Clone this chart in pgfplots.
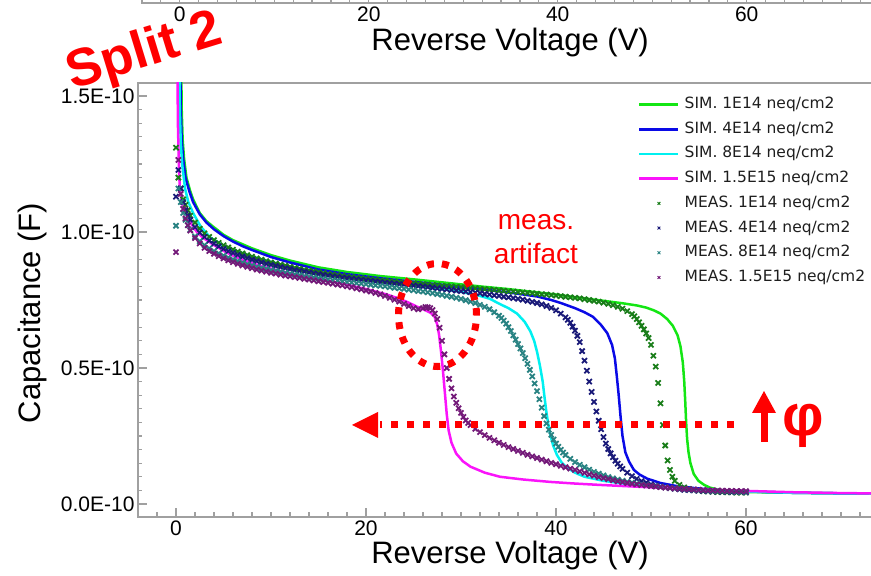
\documentclass[border=0pt]{standalone}
\usepackage{pgfplots}
\pgfplotsset{compat=1.18}
\usepackage{fontspec}
\setmainfont{Liberation Sans}
\newfontfamily\legfont{DejaVu Sans}
\usetikzlibrary{arrows.meta}

\definecolor{axisgray}{RGB}{160,160,160}
\definecolor{simgreen}{RGB}{20,230,20}
\definecolor{simblue}{RGB}{10,10,230}
\definecolor{simcyan}{RGB}{0,240,240}
\definecolor{simmagenta}{RGB}{250,20,250}
\definecolor{measgreen}{RGB}{25,125,25}
\definecolor{measnavy}{RGB}{25,25,120}
\definecolor{measteal}{RGB}{40,130,130}
\definecolor{measpurple}{RGB}{115,25,120}
\definecolor{legtext}{RGB}{30,30,30}
\definecolor{annot}{RGB}{255,0,0}

\pgfplotsset{
  cvframe/.style={
    scale only axis,
    xmin=-4, xmax=74,
    xtick={0,20,40,60}, minor xtick={-2,0,...,72},
    xtick pos=left, ytick pos=left,
    tick align=inside,
    major tick length=9pt, minor tick length=4.5pt,
    axis line style={draw=axisgray, line width=1.5pt},
    every tick/.append style={draw=axisgray, line width=1.2pt},
    tick label style={font=\fontsize{21}{25}\selectfont, text=black},
    /pgf/number format/assume math mode=true,
    label style={font=\fontsize{31}{36}\selectfont},
  },
  sim/.style={no marks, line width=2.5pt},
  meas/.style={only marks, mark=x, mark size=3.6pt, mark options={line width=1.8pt}},
}

\begin{document}
\begin{tikzpicture}[x=1pt,y=1pt]
\useasboundingbox (0,0) rectangle (871,576);
\clip (0,0) rectangle (871,576);

% bottom edge of the panel above
\begin{axis}[cvframe,
  at={(142pt,573pt)}, anchor=south west,
  width=737pt, height=150pt,
  ymin=0, ymax=1, ytick=\empty,
  xlabel={Reverse Voltage (V)},
  xlabel style={at={(axis description cs:0.4995,-0.26)}, anchor=center},
]
\addplot[draw=none] coordinates {(0,0.5)};
\end{axis}

% C-V curves, split 2
\begin{axis}[cvframe,
  at={(138pt,59pt)}, anchor=south west,
  width=741pt, height=434pt,
  ymin=-0.048, ymax=1.548,
  ytick={0,0.5,1,1.5},
  yticklabels={0.0E-10,0.5E-10,1.0E-10,1.5E-10},
  minor ytick={0,0.05,...,1.5},
  xlabel={Reverse Voltage (V)},
  ylabel={Capacitance (F)},
  xlabel style={at={(axis description cs:0.502,-0.088)}, anchor=center},
  ylabel style={at={(axis description cs:-0.143,0.47)}, anchor=center},
  legend style={at={(rel axis cs:0.6748,0.968)}, anchor=north west,
    draw=none, fill=none, inner sep=0pt, row sep=9.7pt, column sep=5pt,
    font=\legfont\fontsize{15.5}{18}\selectfont, text=legtext,
    nodes={inner sep=0pt, text height=11.5pt, text depth=3.5pt}},
  legend cell align=left,
  legend image code/.code={\draw[mark repeat=2,mark phase=2,#1]
    plot coordinates {(0pt,0pt) (19.5pt,0pt) (39pt,0pt)};},
  legend image post style={mark size=2pt, mark options={line width=0.9pt}},
]
% simulation
\addplot[sim, simgreen] coordinates {
(0.55,1.62)(0.6,1.45)(0.7,1.34)(0.85,1.27)(1.1,1.2)(1.5,1.15)(1.8,1.12)(2.5,1.07)
(3.2,1.04)(3.9,1.02)(5,0.99)(6,0.97)(7,0.955)(8,0.94)(10,0.915)(12,0.895)(15,0.87)
(18,0.853)(21.5,0.838)(25,0.826)(28.8,0.812)(32,0.8)(35,0.79)(38,0.778)(40,0.77)
(42.5,0.758)(45,0.747)(47,0.738)(48.5,0.73)(49.5,0.722)(50.3,0.712)(51,0.7)
(51.7,0.68)(52.3,0.655)(52.8,0.62)(53.1,0.58)(53.35,0.52)(53.5,0.45)(53.6,0.38)
(53.7,0.3)(53.8,0.24)(53.95,0.19)(54.15,0.15)(54.5,0.11)(55,0.085)(55.6,0.07)
(56.2,0.06)(57,0.053)(58,0.048)(60,0.044)(65,0.041)(70,0.039)(75,0.038)};
\addlegendentry{SIM. 1E14 neq/cm2}
\addplot[sim, simblue] coordinates {
(0.45,1.62)(0.5,1.45)(0.6,1.34)(0.75,1.27)(1.0,1.2)(1.4,1.15)(1.8,1.11)(2.5,1.065)
(3.2,1.035)(4,1.01)(5,0.985)(6,0.965)(7,0.948)(8,0.934)(10,0.908)(12,0.888)
(15,0.862)(18,0.845)(21.5,0.83)(25,0.817)(28,0.806)(31,0.794)(34,0.782)(36,0.773)
(38,0.763)(39.5,0.75)(40.5,0.739)(42,0.72)(43,0.705)(43.9,0.688)(44.7,0.66)
(45.4,0.628)(45.9,0.585)(46.2,0.535)(46.4,0.47)(46.6,0.4)(46.8,0.32)(47,0.25)
(47.3,0.19)(47.7,0.155)(48.2,0.125)(48.8,0.108)(49.6,0.093)(51,0.077)(52.5,0.067)
(54.4,0.059)(57,0.051)(60,0.046)(65,0.041)(70,0.039)(75,0.038)};
\addlegendentry{SIM. 4E14 neq/cm2}
\addplot[sim, simcyan] coordinates {
(0.35,1.62)(0.4,1.45)(0.5,1.33)(0.65,1.25)(0.95,1.16)(1.3,1.11)(1.8,1.07)(2.6,1.02)
(3.6,0.98)(5,0.95)(6,0.935)(7,0.922)(8,0.91)(10,0.89)(12,0.873)(15,0.85)(18,0.833)
(21.5,0.818)(25,0.803)(28,0.79)(30,0.78)(32,0.765)(33,0.755)(34.1,0.735)(35,0.72)
(35.9,0.7)(36.7,0.67)(37.3,0.635)(37.7,0.6)(38,0.56)(38.3,0.51)(38.6,0.45)
(38.8,0.39)(39,0.335)(39.2,0.29)(39.4,0.255)(39.7,0.215)(40.1,0.18)(40.6,0.152)
(41.1,0.135)(42,0.115)(43,0.1)(45,0.085)(47.5,0.073)(50,0.065)(55,0.053)(60,0.046)
(65,0.041)(70,0.039)(75,0.038)};
\addlegendentry{SIM. 8E14 neq/cm2}
\addplot[sim, simmagenta] coordinates {
(0.15,1.62)(0.2,1.4)(0.3,1.25)(0.4,1.16)(0.7,1.1)(1.1,1.065)(1.6,1.03)(2.2,1.0)
(2.8,0.98)(4,0.952)(5.3,0.925)(6.5,0.905)(7.8,0.888)(9,0.874)(10.6,0.86)
(12.5,0.845)(15,0.828)(17.5,0.81)(20,0.79)(22,0.772)(23.5,0.755)(24.5,0.74)
(25.4,0.725)(26.2,0.713)(26.8,0.703)(27.2,0.69)(27.5,0.66)(27.7,0.62)(27.9,0.56)
(28.1,0.49)(28.3,0.41)(28.5,0.33)(28.7,0.27)(29,0.225)(29.5,0.185)(30.2,0.157)
(31,0.137)(32.5,0.115)(34.1,0.1)(36.5,0.09)(39.4,0.081)(42,0.075)(44.6,0.07)
(50,0.061)(55,0.054)(60,0.048)(65,0.043)(70,0.04)(75,0.038)};
\addlegendentry{SIM. 1.5E15 neq/cm2}
% measurement
\addplot[meas, measgreen] coordinates {
(0,1.31)(0.25,1.20)(0.5,1.16)(0.75,1.12)(1,1.10)(1.25,1.08)(1.5,1.06)(2,1.035)
(2.5,1.012)(3,0.995)(3.5,0.982)(4,0.97)(4.5,0.96)(5,0.951)(5.5,0.943)(6,0.935)
(6.5,0.928)(7,0.921)(7.5,0.915)(8,0.909)(8.5,0.903)(9,0.898)(9.5,0.893)(10,0.888)
(10.5,0.884)(11,0.88)(11.5,0.876)(12,0.872)(12.5,0.868)(13,0.865)(13.5,0.861)
(14,0.858)(14.5,0.855)(15,0.852)(15.5,0.849)(16,0.846)(16.5,0.844)(17,0.841)
(17.5,0.839)(18,0.836)(18.5,0.834)(19,0.832)(19.5,0.83)(20,0.828)(20.5,0.826)
(21,0.824)(21.5,0.822)(22,0.821)(22.5,0.819)(23,0.817)(23.5,0.816)(24,0.814)
(24.5,0.813)(25,0.811)(25.5,0.81)(26,0.808)(26.5,0.807)(27,0.805)(27.5,0.804)
(28,0.802)(28.5,0.801)(29,0.8)(29.5,0.798)(30,0.797)(30.5,0.795)(31,0.794)
(31.5,0.793)(32,0.791)(32.5,0.79)(33,0.788)(33.5,0.787)(34,0.785)(34.5,0.784)
(35,0.782)(35.5,0.781)(36,0.779)(36.5,0.778)(37,0.776)(37.5,0.775)(38,0.773)
(38.5,0.771)(39,0.77)(39.5,0.768)(40,0.766)(40.5,0.764)(41,0.762)(41.5,0.76)
(42,0.758)(42.5,0.756)(43,0.753)(43.5,0.75)(44,0.747)(44.5,0.744)(45,0.74)
(45.5,0.736)(46,0.731)(46.5,0.725)(47,0.718)(47.5,0.709)(48,0.698)(48.25,0.69)
(48.5,0.68)(48.75,0.668)(49,0.655)(49.25,0.642)(49.5,0.627)(49.75,0.61)(50,0.585)
(50.25,0.545)(50.5,0.505)(50.75,0.445)(51,0.37)(51.25,0.29)(51.5,0.215)(51.75,0.16)
(52,0.125)(52.25,0.1)(52.5,0.085)(53,0.07)(53.5,0.061)(54,0.055)(54.5,0.051)
(55,0.049)(55.5,0.047)(56,0.046)(56.5,0.045)(57,0.044)(57.5,0.044)(58,0.043)
(58.5,0.043)(59,0.042)(59.5,0.042)(60,0.042)};
\addlegendentry{MEAS. 1E14 neq/cm2}
\addplot[meas, measnavy] coordinates {
(0,1.13)(0.25,1.228)(0.5,1.16)(0.75,1.11)(1,1.08)(1.25,1.06)(1.5,1.045)(2,1.018)
(2.5,0.998)(3,0.982)(3.5,0.968)(4,0.957)(4.5,0.947)(5,0.938)(5.5,0.93)(6,0.923)
(6.5,0.916)(7,0.91)(7.5,0.904)(8,0.898)(8.5,0.893)(9,0.888)(9.5,0.883)(10,0.879)
(10.5,0.875)(11,0.871)(11.5,0.867)(12,0.864)(12.5,0.86)(13,0.857)(13.5,0.854)
(14,0.851)(14.5,0.848)(15,0.845)(15.5,0.842)(16,0.84)(16.5,0.837)(17,0.835)
(17.5,0.832)(18,0.83)(18.5,0.828)(19,0.826)(19.5,0.824)(20,0.822)(20.5,0.82)
(21,0.818)(21.5,0.816)(22,0.814)(22.5,0.812)(23,0.81)(23.5,0.808)(24,0.807)
(24.5,0.805)(25,0.803)(25.5,0.801)(26,0.799)(26.5,0.797)(27,0.795)(27.5,0.793)
(28,0.791)(28.5,0.789)(29,0.787)(29.5,0.785)(30,0.783)(30.5,0.781)(31,0.779)
(31.5,0.777)(32,0.775)(32.5,0.772)(33,0.77)(33.5,0.767)(34,0.765)(34.5,0.762)
(35,0.76)(35.5,0.757)(36,0.754)(36.5,0.751)(37,0.747)(37.5,0.743)(38,0.739)
(38.5,0.734)(39,0.728)(39.5,0.721)(40,0.712)(40.5,0.7)(41,0.686)(41.25,0.677)
(41.5,0.666)(41.75,0.652)(42,0.637)(42.25,0.618)(42.5,0.595)(42.75,0.562)(43,0.527)
(43.25,0.49)(43.5,0.45)(43.75,0.412)(44,0.375)(44.25,0.34)(44.5,0.306)(44.75,0.275)
(45,0.246)(45.25,0.222)(45.5,0.202)(45.75,0.186)(46,0.172)(46.25,0.159)(46.5,0.148)
(46.75,0.138)(47,0.129)(47.5,0.115)(48,0.102)(48.5,0.092)(49,0.084)(49.5,0.078)
(50,0.072)(50.5,0.068)(51,0.064)(51.5,0.061)(52,0.058)(52.5,0.056)(53,0.054)
(53.5,0.052)(54,0.051)(54.5,0.05)(55,0.049)(55.5,0.048)(56,0.047)(56.5,0.046)
(57,0.046)(57.5,0.045)(58,0.045)(58.5,0.044)(59,0.044)(59.5,0.044)(60,0.043)};
\addlegendentry{MEAS. 4E14 neq/cm2}
\addplot[meas, measteal] coordinates {
(0,1.023)(0.25,1.16)(0.5,1.11)(0.75,1.07)(1,1.045)(1.25,1.025)(1.5,1.008)(2,0.984)
(2.5,0.966)(3,0.952)(3.5,0.94)(4,0.93)(4.5,0.921)(5,0.913)(5.5,0.906)(6,0.899)
(6.5,0.893)(7,0.887)(7.5,0.882)(8,0.877)(8.5,0.872)(9,0.868)(9.5,0.864)(10,0.86)
(10.5,0.857)(11,0.853)(11.5,0.85)(12,0.847)(12.5,0.844)(13,0.841)(13.5,0.838)
(14,0.835)(14.5,0.833)(15,0.83)(15.5,0.828)(16,0.825)(16.5,0.823)(17,0.821)
(17.5,0.818)(18,0.816)(18.5,0.814)(19,0.812)(19.5,0.81)(20,0.808)(20.5,0.806)
(21,0.804)(21.5,0.802)(22,0.8)(22.5,0.797)(23,0.795)(23.5,0.793)(24,0.791)
(24.5,0.788)(25,0.786)(25.5,0.783)(26,0.781)(26.5,0.778)(27,0.775)(27.5,0.772)
(28,0.769)(28.5,0.765)(29,0.762)(29.5,0.758)(30,0.754)(30.5,0.749)(31,0.744)
(31.5,0.739)(32,0.732)(32.5,0.725)(33,0.716)(33.5,0.705)(34,0.692)(34.25,0.684)
(34.5,0.674)(34.75,0.663)(35,0.65)(35.25,0.636)(35.5,0.62)(35.75,0.604)(36,0.588)
(36.25,0.572)(36.5,0.555)(36.75,0.536)(37,0.515)(37.25,0.493)(37.5,0.469)
(37.75,0.443)(38,0.415)(38.25,0.385)(38.5,0.354)(38.75,0.323)(39,0.296)(39.25,0.273)
(39.5,0.254)(39.75,0.237)(40,0.222)(40.25,0.21)(40.5,0.199)(40.75,0.189)(41,0.18)
(41.5,0.166)(42,0.154)(42.5,0.144)(43,0.135)(43.5,0.126)(44,0.118)(44.5,0.111)
(45,0.105)(45.5,0.099)(46,0.094)(46.5,0.089)(47,0.085)(47.5,0.081)(48,0.078)
(48.5,0.075)(49,0.072)(49.5,0.069)(50,0.067)(50.5,0.065)(51,0.063)(51.5,0.061)
(52,0.059)(52.5,0.057)(53,0.056)(53.5,0.054)(54,0.053)(54.5,0.052)(55,0.051)
(55.5,0.05)(56,0.049)(56.5,0.048)(57,0.047)(57.5,0.047)(58,0.046)(58.5,0.046)
(59,0.045)(59.5,0.045)(60,0.045)};
\addlegendentry{MEAS. 8E14 neq/cm2}
\addplot[meas, measpurple] coordinates {
(0,0.926)(0.25,1.265)(0.5,1.14)(0.75,1.085)(1,1.05)(1.25,1.025)(1.5,1.005)(2,0.978)
(2.5,0.958)(3,0.942)(3.5,0.93)(4,0.92)(4.5,0.911)(5,0.903)(5.5,0.896)(6,0.889)
(6.5,0.883)(7,0.877)(7.5,0.872)(8,0.867)(8.5,0.862)(9,0.858)(9.5,0.854)(10,0.85)
(10.5,0.847)(11,0.843)(11.5,0.84)(12,0.837)(12.5,0.834)(13,0.831)(13.5,0.828)
(14,0.825)(14.5,0.822)(15,0.819)(15.5,0.816)(16,0.813)(16.5,0.81)(17,0.807)
(17.5,0.804)(18,0.8)(18.5,0.797)(19,0.793)(19.5,0.789)(20,0.785)(20.5,0.781)
(21,0.776)(21.5,0.771)(22,0.765)(22.5,0.758)(23,0.751)(23.5,0.744)(24,0.736)
(24.5,0.728)(25,0.72)(25.5,0.716)(26,0.72)(26.25,0.724)(26.5,0.723)(26.75,0.72)
(27,0.713)(27.25,0.7)(27.5,0.68)(27.75,0.648)(28,0.6)(28.25,0.55)(28.5,0.5)
(28.75,0.46)(29,0.425)(29.25,0.395)(29.5,0.372)(29.75,0.352)(30,0.335)(30.25,0.32)
(30.5,0.307)(30.75,0.298)(31,0.29)(31.5,0.276)(32,0.264)(32.5,0.253)(33,0.243)
(33.5,0.234)(34,0.225)(34.5,0.217)(35,0.209)(35.5,0.202)(36,0.195)(36.5,0.188)
(37,0.181)(37.5,0.175)(38,0.169)(38.5,0.163)(39,0.157)(39.5,0.151)(40,0.146)
(40.5,0.14)(41,0.135)(41.5,0.13)(42,0.125)(42.5,0.12)(43,0.114)(43.5,0.109)
(44,0.104)(44.5,0.099)(45,0.095)(45.5,0.091)(46,0.087)(46.5,0.083)(47,0.08)
(47.5,0.077)(48,0.074)(48.5,0.072)(49,0.07)(49.5,0.068)(50,0.066)(50.5,0.064)
(51,0.062)(51.5,0.06)(52,0.059)(52.5,0.057)(53,0.056)(53.5,0.055)(54,0.054)
(54.5,0.053)(55,0.052)(55.5,0.051)(56,0.05)(56.5,0.05)(57,0.049)(57.5,0.049)
(58,0.048)(58.5,0.048)(59,0.047)(59.5,0.047)(60,0.047)};
\addlegendentry{MEAS. 1.5E15 neq/cm2}
\end{axis}

% annotations
\node[annot, rotate=17, font=\bfseries\fontsize{53}{60}\selectfont] at (145,523) {Split 2};
\node[annot, align=center, font=\fontsize{28}{34}\selectfont] at (536,337) {meas.\\artifact};
\draw[annot, line width=7pt, dash pattern=on 7pt off 8pt] (437.5,261) ellipse (39 and 51.5);
\draw[annot, line width=7pt, dash pattern=on 7pt off 9pt] (734,151) -- (380,151);
\fill[annot] (352,151) -- (378,164) -- (378,138) -- cycle;
\fill[annot] (760.5,134) rectangle (767.5,165);
\fill[annot] (752,163) -- (776,163) -- (764,185) -- cycle;
\node[annot, font=\bfseries\fontsize{58}{64}\selectfont] at (803,150) {φ};
\end{tikzpicture}
\end{document}
